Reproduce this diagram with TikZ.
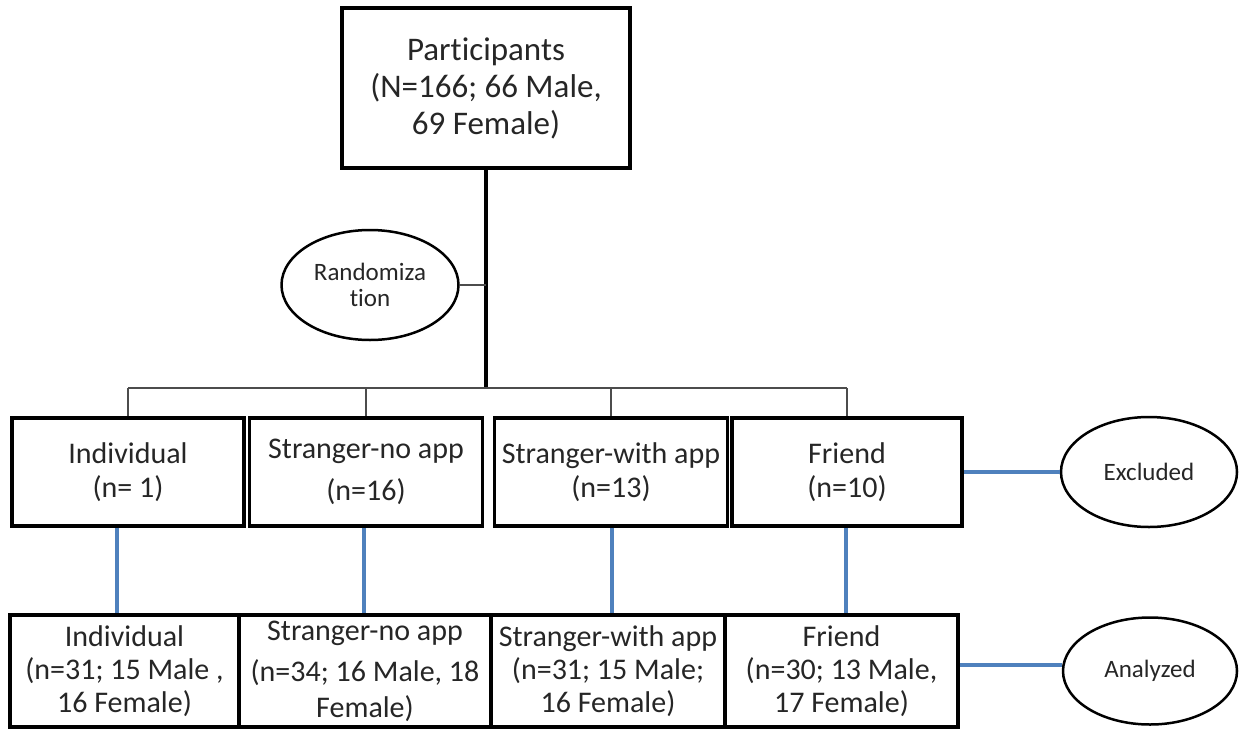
\documentclass[tikz,border=0pt]{standalone}
\usepackage{fontspec}
\setmainfont{Carlito}[Ligatures=NoCommon]
\usepackage{tikz}
\usetikzlibrary{positioning, shapes.geometric, calc}
\definecolor{flowblue}{HTML}{4F81BD}
\definecolor{flowtext}{HTML}{262626}

\begin{document}
\begin{tikzpicture}[x=1pt, y=-1pt,
    groupbox/.style={draw, line width=3.5pt, minimum height=108pt, inner sep=0pt, align=center, text=flowtext, font=\fontsize{30}{34}\selectfont},
    resultbox/.style={draw, line width=3.5pt, minimum height=112pt, inner sep=0pt, align=center, text=flowtext, font=\fontsize{30}{33}\selectfont},
    oval/.style={draw, ellipse, line width=2.5pt, minimum width=176pt, minimum height=110pt, inner sep=0pt, align=center, text=flowtext, font=\fontsize{25}{26}\selectfont},
    trunk/.style={line width=3.5pt},
    branch/.style={line width=1.5pt, black!70},
    bluelink/.style={line width=3.2pt, flowblue}]
    \useasboundingbox (0,0) rectangle (1241,728);

    \node[draw, line width=3.5pt, minimum width=288pt, minimum height=160pt, inner sep=0pt, align=center, text=flowtext, font=\fontsize{33}{37}\selectfont] (part) at (486,88) {Participants\\(N=166; 66 Male,\\69 Female)};
    \node[oval, minimum width=177pt] (rand) at (370,285) {Randomiza\\tion};
    \coordinate (bus) at (486,388);

    \node[groupbox, minimum width=232pt] (r1a) at (128,472) {Individual\\(n= 1)};
    \node[groupbox, minimum width=233pt] (r1b) at (366,472) {Stranger-no app\\[8pt](n=16)};
    \node[groupbox, minimum width=233pt] (r1c) at (611,472) {Stranger-with app\\(n=13)};
    \node[groupbox, minimum width=230pt] (r1d) at (847,472) {Friend\\(n=10)};
    \node[oval] (excl) at (1149,472) {Excluded};

    \node[resultbox, minimum width=229pt] (r2a) at (124.5,671) {Individual\\(n=31; 15 Male ,\\16 Female)};
    \node[resultbox, minimum width=252pt] (r2b) at (365,671) {Stranger-no app\\[8pt](n=34; 16 Male, 18\\[3pt]Female)};
    \node[resultbox, minimum width=234pt] (r2c) at (608,671) {Stranger-with app\\(n=31; 15 Male;\\16 Female)};
    \node[resultbox, minimum width=233pt] (r2d) at (841.5,671) {Friend\\(n=30; 13 Male,\\17 Female)};
    \node[oval, minimum width=174pt, minimum height=107pt] (anal) at (1150,671) {Analyzed};

    % tree from participants down to the groups
    \draw[trunk] (part.south) -- (bus);
    \draw[branch] (rand.east) -- (rand.east -| bus);
    \draw[branch] (bus -| r1a.north) -- (bus -| r1d.north);
    \foreach \g in {r1a, r1b, r1c, r1d}
        \draw[branch] (bus -| \g.north) -- (\g.north);

    % blue links
    \foreach \g/\r/\dx in {r1a/r2a/-11, r1b/r2b/-2, r1c/r2c/1, r1d/r2d/-1}
        \draw[bluelink] ([xshift=\dx pt]\g.south) -- ([xshift=\dx pt]\g.south |- \r.north);
    \draw[bluelink] (r1d.east) -- (excl.west);
    \draw[bluelink] ([yshift=6pt]r2d.east) -- ([yshift=6pt]r2d.east -| anal.west);
\end{tikzpicture}
\end{document}
